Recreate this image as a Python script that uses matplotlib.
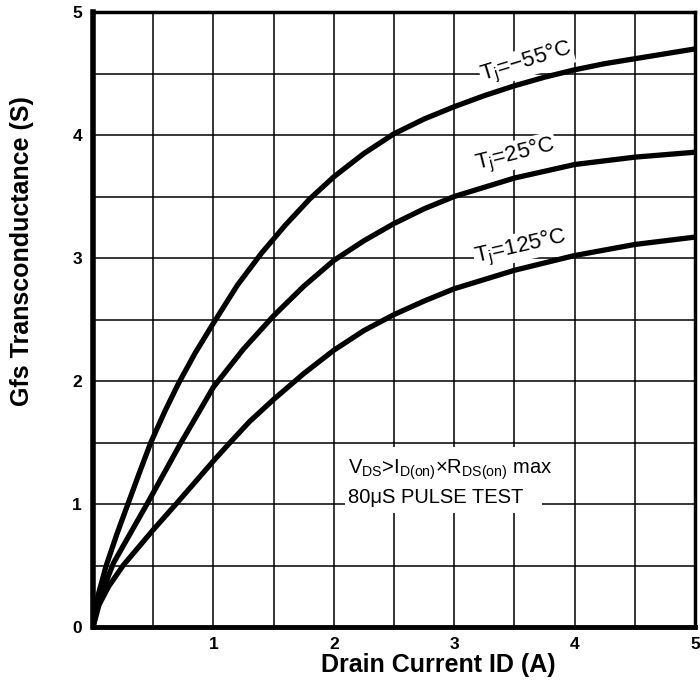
import matplotlib
matplotlib.use("Agg")
import matplotlib.pyplot as plt
from matplotlib.patches import Rectangle

plt.rcParams['font.family'] = ['Liberation Sans', 'DejaVu Sans']

# values (Id in A, gfs in S)
id_m55 = [0, 0.04, 0.11, 0.2, 0.29, 0.38, 0.48, 0.6, 0.71, 0.85, 1.0, 1.2, 1.4, 1.6, 1.8, 2.0,
          2.25, 2.5, 2.75, 3.0, 3.25, 3.5, 3.75, 4.0, 4.25, 4.5, 4.75, 5.0]
gfs_m55 = [0, 0.25, 0.5, 0.76, 1.0, 1.24, 1.5, 1.76, 1.98, 2.23, 2.47, 2.78, 3.04, 3.27, 3.48, 3.66,
           3.85, 4.01, 4.13, 4.23, 4.32, 4.40, 4.47, 4.53, 4.58, 4.62, 4.66, 4.70]

id_25 = [0, 0.05, 0.17, 0.46, 0.72, 1.0, 1.25, 1.5, 1.75, 2.0, 2.25, 2.5, 2.75, 3.0, 3.5, 4.0, 4.5, 5.0]
gfs_25 = [0, 0.22, 0.52, 1.02, 1.48, 1.95, 2.26, 2.53, 2.77, 2.98, 3.14, 3.28, 3.40, 3.50, 3.65, 3.76, 3.82, 3.86]

id_125 = [0, 0.05, 0.13, 0.25, 0.5, 0.69, 0.85, 1.0, 1.12, 1.3, 1.5, 1.75, 2.0, 2.25, 2.5, 2.75,
          3.0, 3.5, 4.0, 4.5, 5.0]
gfs_125 = [0, 0.18, 0.33, 0.5, 0.79, 1.0, 1.18, 1.35, 1.48, 1.67, 1.85, 2.06, 2.25, 2.41, 2.54, 2.65,
           2.75, 2.90, 3.02, 3.11, 3.17]

curve_labels = ["T$_\\mathregular{j}$=\u221255°C", "T$_\\mathregular{j}$=25°C", "T$_\\mathregular{j}$=125°C"]
x_ticks = [1, 2, 3, 4, 5]
y_ticks = [0, 1, 2, 3, 4, 5]

fig = plt.figure(figsize=(7, 7), dpi=100)
ax = fig.add_axes([93 / 700, 73 / 700, 602 / 700, 615 / 700])

for xs, ys in [(id_m55, gfs_m55), (id_25, gfs_25), (id_125, gfs_125)]:
    ax.plot(xs, ys, color='black', lw=3.8, solid_capstyle='round', solid_joinstyle='round', zorder=3)

ax.set_xlim(0, 5)
ax.set_ylim(0, 5)
ax.set_xticks(x_ticks)
ax.set_yticks(y_ticks)
ax.set_xticks([0.5, 1.5, 2.5, 3.5, 4.5], minor=True)
ax.set_yticks([0.5, 1.5, 2.5, 3.5, 4.5], minor=True)
ax.grid(True, which='both', color='black', lw=1.1, zorder=1)
ax.tick_params(which='both', length=0)
ax.tick_params(axis='x', pad=7)
ax.tick_params(axis='y', pad=8)
for lab in ax.get_xticklabels() + ax.get_yticklabels():
    lab.set_fontsize(12.5)
    lab.set_fontweight('bold')

for side, w in [('left', 4), ('bottom', 3.5), ('top', 2.5), ('right', 2.5)]:
    ax.spines[side].set_linewidth(w)
    ax.spines[side].set_zorder(5)

# white patch behind the test condition note
ax.add_patch(Rectangle((2.09, 0.93), 1.64, 0.53, facecolor='white', edgecolor='none', zorder=2))
ax.text(2.12, 1.28, "V$_\\mathregular{DS}$>I$_\\mathregular{D(on)}$×R$_\\mathregular{DS(on)}$ max",
        fontsize=14.5, va='center', ha='left', zorder=4)
ax.text(2.12, 1.05, "80μS PULSE TEST", fontsize=14.5, va='center', ha='left', zorder=4)

label_pos = [(3.60, 4.59, 17), (3.51, 3.84, 14), (3.55, 3.09, 13)]
for txt, (lx, ly, rot) in zip(curve_labels, label_pos):
    ax.text(lx, ly, txt, fontsize=16, rotation=rot, ha='center', va='center', zorder=4,
            bbox=dict(facecolor='white', edgecolor='none', pad=0.5))

fig.text(438 / 700, 1 - 665 / 700, "Drain Current ID (A)", fontsize=18, fontweight='bold',
         ha='center', va='center')
fig.text(22 / 700, 1 - 251 / 700, "Gfs Transconductance (S)", fontsize=18, fontweight='bold',
         ha='center', va='center', rotation=90)

fig.savefig("out.png", dpi=100)
